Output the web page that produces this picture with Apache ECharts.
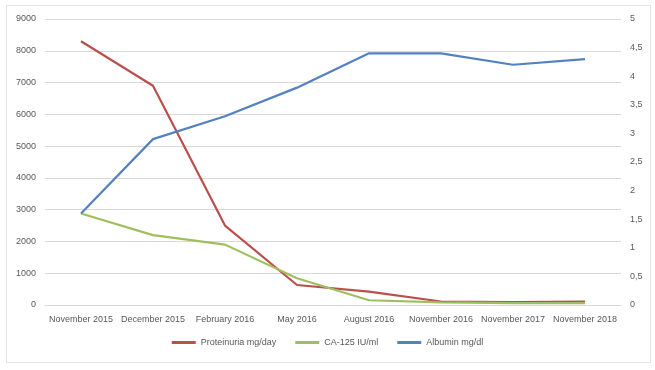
<!DOCTYPE html>
<html>
<head>
<meta charset="utf-8">
<script src="https://cdn.jsdelivr.net/npm/echarts@6/dist/echarts.min.js"></script>
<style>html,body{margin:0;padding:0;background:#fff}#c{width:655px;height:370px}</style>
</head>
<body>
<div id="c"></div>
<script>
var categories = ['November 2015','December 2015','February 2016','May 2016','August 2016','November 2016','November 2017','November 2018'];
var proteinuria = [8300, 6900, 2500, 630, 420, 110, 90, 110];
var ca125 = [2880, 2200, 1900, 840, 150, 80, 60, 60];
var albumin = [1.6, 2.9, 3.3, 3.8, 4.4, 4.4, 4.2, 4.3];
var leftTicks = [0, 1000, 9000];   // min, interval, max
var rightTicks = [0, 0.5, 5];

var font = 'Liberation Sans';
var labelColor = '#595959';
var chart = echarts.init(document.getElementById('c'));
chart.setOption({
  animation: false,
  graphic: [{type:'rect', shape:{x:6.5,y:5.5,width:644,height:357}, style:{fill:'none', stroke:'#e3e3e3', lineWidth:1}, silent:true}],
  grid: {left:45, right:34, top:19, bottom:65},
  legend: {
    bottom: 18, left: 'center', itemWidth: 24, itemHeight: 3, itemGap: 19,
    icon: 'rect',
    textStyle: {color: labelColor, fontSize: 9, fontFamily: font},
    data: ['Proteinuria mg/day','CA-125 IU/ml','Albumin mg/dl']
  },
  xAxis: {
    type: 'category', data: categories, boundaryGap: true,
    axisLine: {show:true, lineStyle:{color:'#d9d9d9'}},
    axisTick: {show:false},
    axisLabel: {color: labelColor, fontSize: 9, fontFamily: font, margin: 10, interval: 0}
  },
  yAxis: [{
    type: 'value', min: leftTicks[0], max: leftTicks[2], interval: leftTicks[1],
    axisLine:{show:false}, axisTick:{show:false},
    splitLine:{lineStyle:{color:'#d9d9d9'}},
    axisLabel:{color: labelColor, fontSize: 9, fontFamily: font, margin: 9,
      formatter: function(v){ return String(v); }}
  },{
    type: 'value', min: rightTicks[0], max: rightTicks[2], interval: rightTicks[1],
    axisLine:{show:false}, axisTick:{show:false}, splitLine:{show:false},
    axisLabel:{color: labelColor, fontSize: 9, fontFamily: font, margin: 9,
      formatter: function(v){ return String(v).replace('.', ','); }}
  }],
  series: [
    {name:'Proteinuria mg/day', type:'line', data: proteinuria, yAxisIndex:0, symbol:'none',
     lineStyle:{color:'#b9504d', width:2.2}, itemStyle:{color:'#b9504d'}},
    {name:'CA-125 IU/ml', type:'line', data: ca125, yAxisIndex:0, symbol:'none',
     lineStyle:{color:'#9fbf5f', width:2.2}, itemStyle:{color:'#9fbf5f'}},
    {name:'Albumin mg/dl', type:'line', data: albumin, yAxisIndex:1, symbol:'none',
     lineStyle:{color:'#5481bf', width:2.2}, itemStyle:{color:'#5481bf'}}
  ]
});
</script>
</body>
</html>
